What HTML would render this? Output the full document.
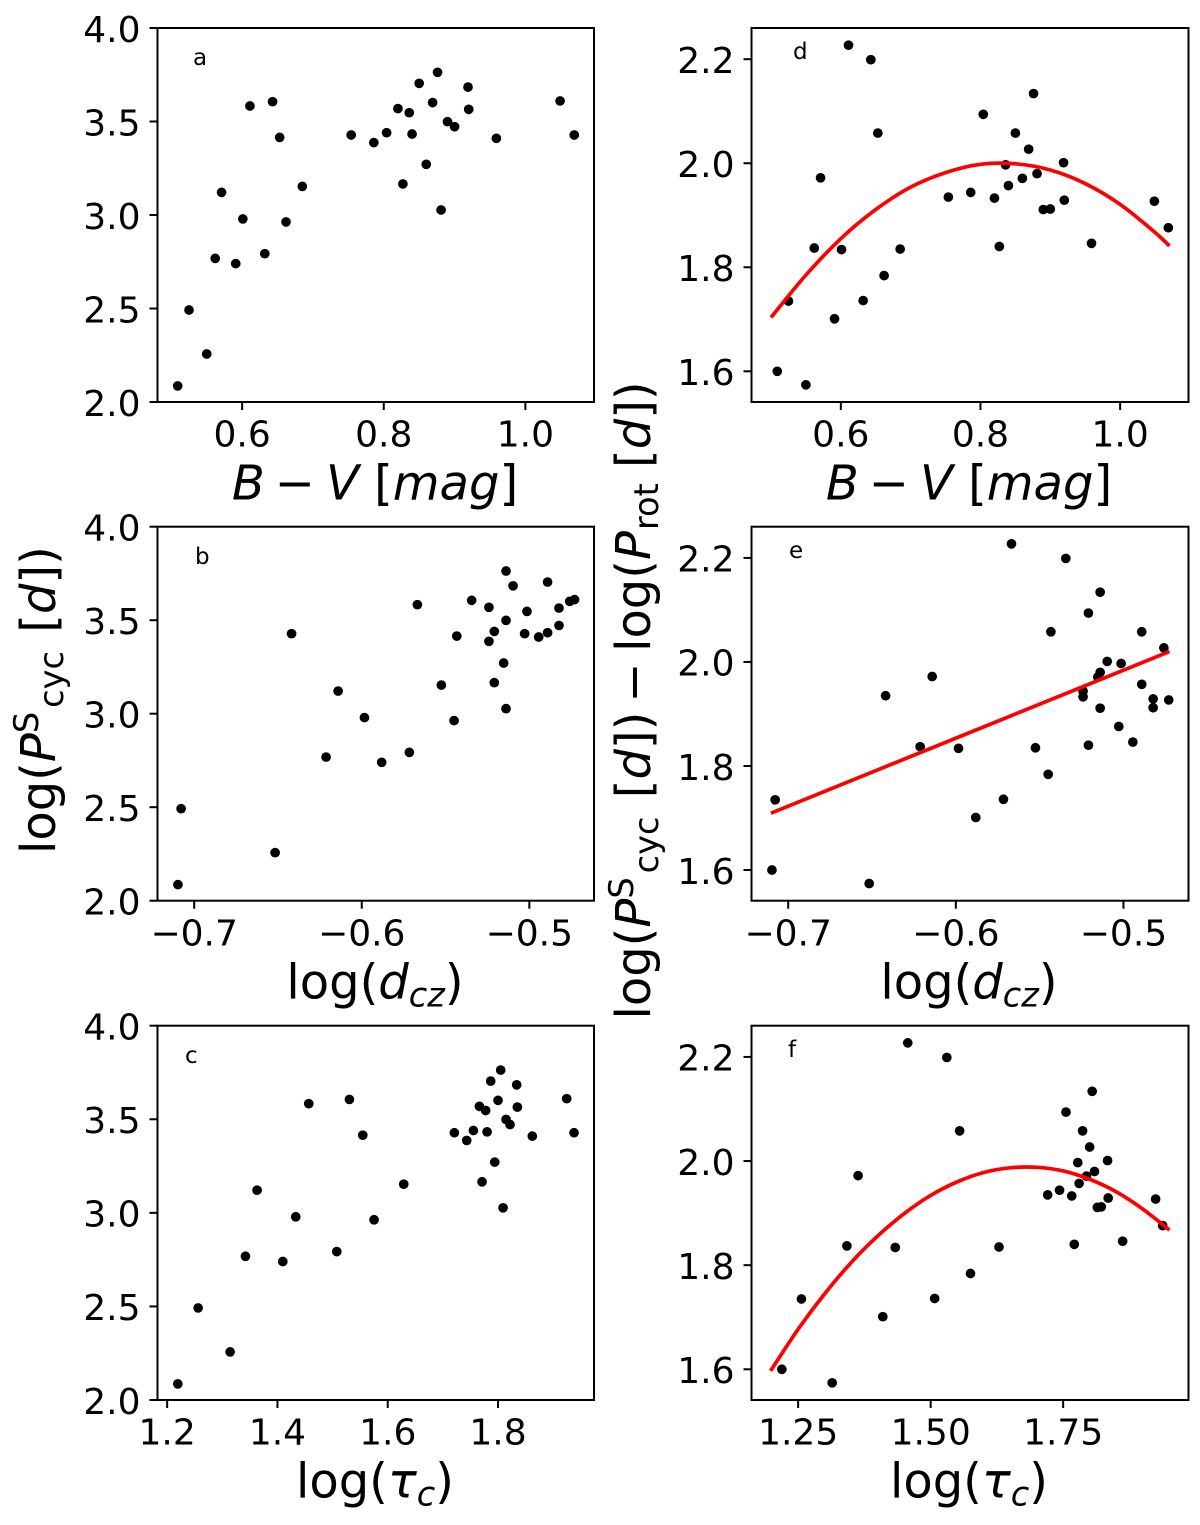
<!DOCTYPE html>
<html lang="en">
<head>
<meta charset="utf-8">
<title>Stellar cycle period scatter panels</title>
<style>
  html, body { margin: 0; padding: 0; background: #fff; }
  svg { display: block; font-family: "DejaVu Sans", "Liberation Sans", sans-serif; }
  .axis-label { font-size: 48px; fill: #000; }
  .panel-letter { font-size: 23px; fill: #000; }
  .tick-label { font-size: 36px; fill: #000; }
  .it { font-style: italic; }
</style>
</head>
<body>
<svg id="figure" xmlns="http://www.w3.org/2000/svg" width="1200" height="1525" viewBox="0 0 1200 1525">
  <g id="panels"></g>

  <text class="panel-letter" x="193" y="65">a</text>
  <text class="panel-letter" x="195" y="564">b</text>
  <text class="panel-letter" x="185" y="1063">c</text>
  <text class="panel-letter" x="793" y="59">d</text>
  <text class="panel-letter" x="789" y="558">e</text>
  <text class="panel-letter" x="788" y="1057">f</text>

  <text class="axis-label" x="375" y="499.5" text-anchor="middle"><tspan class="it">B</tspan><tspan dx="10">−</tspan><tspan class="it" dx="11">V</tspan> [<tspan class="it">mag</tspan>]</text>
  <text class="axis-label" x="969" y="499.5" text-anchor="middle"><tspan class="it">B</tspan><tspan dx="10">−</tspan><tspan class="it" dx="11">V</tspan> [<tspan class="it">mag</tspan>]</text>
  <text class="axis-label" x="375" y="998.5" text-anchor="middle">log(<tspan class="it">d</tspan><tspan class="it" font-size="33.6" dy="8">cz</tspan><tspan dy="-8">)</tspan></text>
  <text class="axis-label" x="969" y="998.5" text-anchor="middle">log(<tspan class="it">d</tspan><tspan class="it" font-size="33.6" dy="8">cz</tspan><tspan dy="-8">)</tspan></text>
  <text class="axis-label" x="375" y="1497.5" text-anchor="middle">log(<tspan class="it">τ</tspan><tspan class="it" font-size="33.6" dy="8">c</tspan><tspan dy="-8">)</tspan></text>
  <text class="axis-label" x="969" y="1497.5" text-anchor="middle">log(<tspan class="it">τ</tspan><tspan class="it" font-size="33.6" dy="8">c</tspan><tspan dy="-8">)</tspan></text>

  <text class="axis-label" transform="translate(55,854) rotate(-90)">log(<tspan class="it">P</tspan><tspan font-size="33.6" dy="-17">S</tspan><tspan font-size="33.6" dx="4" dy="25">cyc</tspan><tspan dx="3" dy="-8"> [</tspan><tspan class="it">d</tspan>])</text>
  <text class="axis-label" transform="translate(650,1019.5) rotate(-90)">log(<tspan class="it">P</tspan><tspan font-size="33.6" dy="-17">S</tspan><tspan font-size="33.6" dx="4" dy="25">cyc</tspan><tspan dx="3" dy="-8"> [</tspan><tspan class="it">d</tspan>])<tspan dx="9">−</tspan><tspan dx="10.5">log(</tspan><tspan class="it">P</tspan><tspan font-size="33.6" dx="1" dy="8">rot</tspan><tspan dy="-8"> [</tspan><tspan class="it">d</tspan>])</text>
</svg>

<script>
// ---- Star measurements (same order in every array) ----
const bvColor = [0.509,0.525,0.550,0.562,0.571,0.591,0.601,0.611,0.632,0.643,0.653,0.662,0.685,0.754,0.786,0.804,0.820,0.827,0.836,0.840,0.850,0.860,0.869,0.876,0.881,0.890,0.900,0.919,0.920,0.959,1.049,1.069];
const logDcz = [-0.7097,-0.7078,-0.6517,-0.6213,-0.6141,-0.5881,-0.5984,-0.5668,-0.5716,-0.5344,-0.5433,-0.5449,-0.5525,-0.6419,-0.5241,-0.5209,-0.5241,-0.5209,-0.5014,-0.4891,-0.4891,-0.5153,-0.4759,-0.5139,-0.5139,-0.5139,-0.4823,-0.5097,-0.4823,-0.4944,-0.4730,-0.5028];
const logTau = [1.2193,1.2562,1.3142,1.342,1.3631,1.4097,1.4332,1.4568,1.5076,1.5305,1.5547,1.5752,1.629,1.7208,1.7432,1.7553,1.7662,1.771,1.7776,1.7801,1.7867,1.794,1.80,1.8048,1.8091,1.8145,1.8218,1.8338,1.835,1.8622,1.9245,1.9378];
const logPcyc = [2.086,2.492,2.257,2.768,3.121,2.740,2.979,3.583,2.793,3.606,3.415,2.963,3.153,3.428,3.387,3.440,3.569,3.166,3.547,3.433,3.704,3.271,3.601,3.763,3.027,3.499,3.472,3.684,3.565,3.410,3.610,3.428];
const logCycMinusRot = [1.600,1.735,1.574,1.837,1.972,1.701,1.834,2.227,1.736,2.199,2.058,1.784,1.835,1.935,1.944,2.094,1.933,1.840,1.997,1.957,2.058,1.971,2.027,2.134,1.980,1.911,1.912,2.001,1.929,1.846,1.927,1.876];

// ---- Fit curves ----
const fitBvX = [0.50,0.55,0.60,0.65,0.70,0.75,0.80,0.85,0.90,0.95,1.00,1.05,1.0706];
const fitBvY = [1.7035,1.785,1.855,1.911,1.954,1.982,1.998,1.999,1.987,1.961,1.921,1.867,1.841];
const fitDczX = [-0.7103,-0.4726];
const fitDczY = [1.7093,2.0199];
const fitTauX = [1.198,1.25,1.30,1.35,1.40,1.45,1.50,1.55,1.60,1.65,1.70,1.75,1.80,1.85,1.90,1.9506];
const fitTauY = [1.597,1.677,1.745,1.805,1.856,1.899,1.934,1.960,1.978,1.987,1.988,1.981,1.965,1.941,1.908,1.8675];

// ---- Tick values ----
const ticksBv = [0.6,0.8,1.0];
const ticksDcz = [-0.7,-0.6,-0.5];
const ticksTauLeft = [1.2,1.4,1.6,1.8];
const ticksTauRight = [1.25,1.50,1.75];
const ticksPcyc = [2.0,2.5,3.0,3.5,4.0];
const ticksDiff = [1.6,1.8,2.0,2.2];

const NS = 'http://www.w3.org/2000/svg';
const root = document.getElementById('panels');

function make(parent, tag, attrs) {
  const el = document.createElementNS(NS, tag);
  for (const k in attrs) el.setAttribute(k, attrs[k]);
  parent.appendChild(el);
  return el;
}
function scale(d0, d1, r0, r1) {
  return function (v) { return r0 + (v - d0) / (d1 - d0) * (r1 - r0); };
}
function fmt(v, decimals) {
  return v.toFixed(decimals).replace('-', '\u2212');
}
// Smooth path through points (Catmull-Rom to Bezier)
function smoothPath(pts) {
  let d = 'M' + pts[0][0] + ' ' + pts[0][1];
  for (let i = 0; i < pts.length - 1; i++) {
    const p0 = pts[Math.max(i - 1, 0)], p1 = pts[i], p2 = pts[i + 1], p3 = pts[Math.min(i + 2, pts.length - 1)];
    const c1x = p1[0] + (p2[0] - p0[0]) / 6, c1y = p1[1] + (p2[1] - p0[1]) / 6;
    const c2x = p2[0] - (p3[0] - p1[0]) / 6, c2y = p2[1] - (p3[1] - p1[1]) / 6;
    d += ' C' + c1x + ' ' + c1y + ' ' + c2x + ' ' + c2y + ' ' + p2[0] + ' ' + p2[1];
  }
  return d;
}

function drawPanel(cfg) {
  const g = make(root, 'g', {});
  
  

  const sx = scale(cfg.xlim[0], cfg.xlim[1], cfg.left, cfg.right);
  const sy = scale(cfg.ylim[0], cfg.ylim[1], cfg.bottom, cfg.top);

  // markers
  cfg.xs.forEach(function (xv, i) {
    const c = make(g, 'circle', { cx: sx(xv), cy: sy(cfg.ys[i]), r: 4.85, fill: '#000' });
    
    
  });

  // fit line
  if (cfg.fitX) {
    const pts = cfg.fitX.map(function (xv, i) { return [sx(xv), sy(cfg.fitY[i])]; });
    const p = make(g, 'path', { d: smoothPath(pts), fill: 'none', stroke: '#ff0000', 'stroke-width': 3.7 });
    
    
  }

  // frame
  const frame = make(g, 'rect', {
    x: cfg.left, y: cfg.top, width: cfg.right - cfg.left, height: cfg.bottom - cfg.top,
    fill: 'none', stroke: '#000', 'stroke-width': 2
  });
  
  

  // x ticks
  cfg.xTicks.forEach(function (t) {
    const x = sx(t);
    const tick = make(g, 'line', { x1: x, x2: x, y1: cfg.bottom, y2: cfg.bottom + 8, stroke: '#000', 'stroke-width': 2 });
    
    
    const lab = make(g, 'text', { x: x, y: cfg.bottom + 44.7, 'text-anchor': 'middle', class: 'tick-label' });
    
    
    lab.textContent = fmt(t, cfg.xDecimals);
  });

  // y ticks
  cfg.yTicks.forEach(function (t) {
    const y = sy(t);
    const tick = make(g, 'line', { x1: cfg.left - 8, x2: cfg.left, y1: y, y2: y, stroke: '#000', 'stroke-width': 2 });
    
    
    const lab = make(g, 'text', { x: cfg.left - 17, y: y + 13.8, 'text-anchor': 'end', class: 'tick-label' });
    
    
    lab.textContent = fmt(t, 1);
  });
}

const colL = { left: 157.5, right: 594 };
const colR = { left: 751.5, right: 1188.5 };
const row1 = { top: 28, bottom: 402 };
const row2 = { top: 526.7, bottom: 900.7 };
const row3 = { top: 1025.7, bottom: 1400 };
const ylimP = [2, 4];
const ylimD = [1.541, 2.26];

drawPanel({ id: 'a', left: colL.left, right: colL.right, top: row1.top, bottom: row1.bottom,
  xlim: [0.4805, 1.0969], ylim: ylimP, xs: bvColor, ys: logPcyc, xTicks: ticksBv, xDecimals: 1, yTicks: ticksPcyc });
drawPanel({ id: 'b', left: colL.left, right: colL.right, top: row2.top, bottom: row2.bottom,
  xlim: [-0.7219, -0.4614], ylim: ylimP, xs: logDcz, ys: logPcyc, xTicks: ticksDcz, xDecimals: 1, yTicks: ticksPcyc });
drawPanel({ id: 'c', left: colL.left, right: colL.right, top: row3.top, bottom: row3.bottom,
  xlim: [1.1825, 1.974], ylim: ylimP, xs: logTau, ys: logPcyc, xTicks: ticksTauLeft, xDecimals: 1, yTicks: ticksPcyc });
drawPanel({ id: 'd', left: colR.left, right: colR.right, top: row1.top, bottom: row1.bottom,
  xlim: [0.4721, 1.0979], ylim: ylimD, xs: bvColor, ys: logCycMinusRot, fitX: fitBvX, fitY: fitBvY, xTicks: ticksBv, xDecimals: 1, yTicks: ticksDiff });
drawPanel({ id: 'e', left: colR.left, right: colR.right, top: row2.top, bottom: row2.bottom,
  xlim: [-0.7219, -0.4612], ylim: ylimD, xs: logDcz, ys: logCycMinusRot, fitX: fitDczX, fitY: fitDczY, xTicks: ticksDcz, xDecimals: 1, yTicks: ticksDiff });
drawPanel({ id: 'f', left: colR.left, right: colR.right, top: row3.top, bottom: row3.bottom,
  xlim: [1.162, 1.9865], ylim: ylimD, xs: logTau, ys: logCycMinusRot, fitX: fitTauX, fitY: fitTauY, xTicks: ticksTauRight, xDecimals: 2, yTicks: ticksDiff });
</script>
</body>
</html>
